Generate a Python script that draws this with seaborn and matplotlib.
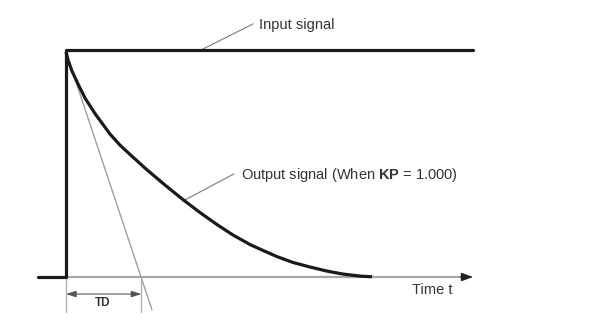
import numpy as np
import pandas as pd
import seaborn as sns
import matplotlib
matplotlib.use("Agg")
import matplotlib.pyplot as plt

sns.set_theme(style="white")
plt.rcParams['font.family'] = ['Liberation Sans', 'DejaVu Sans']
plt.rcParams['mathtext.fontset'] = 'custom'
plt.rcParams['mathtext.bf'] = 'Liberation Sans:bold'
plt.rcParams['mathtext.rm'] = 'Liberation Sans'

# Time in units of TD, output as fraction of input step
time_td = [0, 0.026, 0.078, 0.165, 0.251, 0.381, 0.571, 0.701, 0.831, 1.039, 1.286, 1.519,
           1.740, 1.961, 2.169, 2.390, 2.558, 2.740, 2.948, 3.169, 3.390, 3.597, 3.818, 3.974]
output = [0.991, 0.956, 0.907, 0.844, 0.786, 0.718, 0.630, 0.581, 0.540, 0.476, 0.405, 0.341,
          0.284, 0.231, 0.185, 0.143, 0.117, 0.090, 0.064, 0.044, 0.026, 0.013, 0.004, 0.001]
input_time = [-0.364, 0.0, 0.0, 5.286]
input_level = [0.0, 0.0, 1.0, 1.0]
labels = ["Input signal", r"Output signal (When $\mathbf{KP}$ = 1.000)", "TD", "Time t"]

df_out = pd.DataFrame({"t": time_td, "y": output})
df_in = pd.DataFrame({"t": input_time, "y": input_level})

fig = plt.figure(figsize=(5.96, 3.23), dpi=100)
ax = fig.add_axes([0, 0, 1, 1])
ax.set_xlim(-0.857, 6.883)
ax.set_ylim(-0.2026, 1.2203)
ax.axis('off')

# time axis (gray) with arrow head
ax.plot([0, 5.2], [0, 0], color='#a8a8a8', lw=1.6, zorder=1)
ax.annotate('', xy=(5.286, 0), xytext=(5.12, 0),
            arrowprops=dict(arrowstyle='-|>,head_length=0.6,head_width=0.22',
                            color='#222222', lw=0.8, shrinkA=0, shrinkB=0))

# input signal
sns.lineplot(data=df_in, x='t', y='y', ax=ax, color='#1a1a1a', lw=2.3,
             sort=False, estimator=None, zorder=3)
# output signal
sns.lineplot(data=df_out, x='t', y='y', ax=ax, color='#1a1a1a', lw=2.3,
             estimator=None, zorder=3, solid_joinstyle='round', solid_capstyle='butt')

# tangent line
ax.plot([0, 1.117], [0.991, -0.145], color='#999999', lw=0.9, zorder=2)

# TD guides
ax.plot([0, 0], [0, -0.154], color='#aaaaaa', lw=0.9)
ax.plot([0.98, 0.98], [0, -0.154], color='#aaaaaa', lw=0.9)
ax.annotate('', xy=(0.0, -0.075), xytext=(0.98, -0.075),
            arrowprops=dict(arrowstyle='<|-|>,head_length=0.5,head_width=0.16',
                            color='#555555', lw=0.8, shrinkA=0, shrinkB=0))
ax.text(0.47, -0.115, labels[2], ha='center', va='center', fontsize=8.5,
        color='#333333', fontweight='bold')

# labels with leaders
ax.plot([2.43, 1.753], [1.115, 1.0], color='#888888', lw=0.9)
ax.text(2.506, 1.112, labels[0], ha='left', va='center', fontsize=10.5, color='#333333')
ax.plot([2.18, 1.52], [0.454, 0.335], color='#888888', lw=0.9)
ax.text(2.273, 0.449, labels[1], ha='left', va='center', fontsize=10.5, color='#333333')

ax.text(4.49, -0.057, labels[3], ha='left', va='center', fontsize=10.5, color='#333333')

fig.savefig('out.png', dpi=100)
